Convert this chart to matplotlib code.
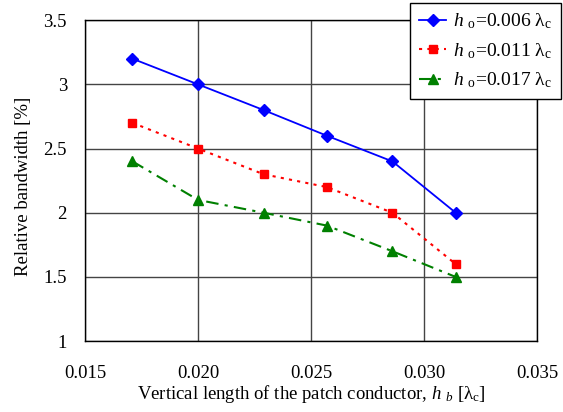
import matplotlib
matplotlib.use("Agg")
import matplotlib.pyplot as plt

plt.rcParams['font.family'] = ['Liberation Serif', 'DejaVu Serif']
plt.rcParams['mathtext.fontset'] = 'custom'
plt.rcParams['mathtext.rm'] = 'Liberation Serif'
plt.rcParams['mathtext.it'] = 'Liberation Serif:italic'
plt.rcParams['mathtext.bf'] = 'Liberation Serif:bold'

x_vals = [0.0171, 0.0200, 0.0229, 0.0257, 0.0286, 0.0314]
bw_006 = [3.2, 3.0, 2.8, 2.6, 2.4, 2.0]
bw_011 = [2.7, 2.5, 2.3, 2.2, 2.0, 1.6]
bw_017 = [2.4, 2.1, 2.0, 1.9, 1.7, 1.5]
labels = [r'$h$ $_{\rm o}$=0.006 λ$_{\rm c}$',
          r'$h$ $_{\rm o}$=0.011 λ$_{\rm c}$',
          r'$h$ $_{\rm o}$=0.017 λ$_{\rm c}$']
xticks = [0.015, 0.020, 0.025, 0.030, 0.035]
xticklabels = ['0.015', '0.020', '0.025', '0.030', '0.035']
yticks = [1, 1.5, 2, 2.5, 3, 3.5]
yticklabels = ['1', '1.5', '2', '2.5', '3', '3.5']

fig = plt.figure(figsize=(5.63, 4.12), dpi=100)
ax = fig.add_axes([0.151, 0.172, 0.803, 0.779])

ax.plot(x_vals, bw_006, color='#0000FF', linestyle='-', linewidth=1.3,
        marker='D', markersize=6, label=labels[0])
ax.plot(x_vals, bw_011, color='#FF0000', linestyle=(0, (1.5, 2.5)), linewidth=1.5,
        marker='s', markersize=6, label=labels[1])
ax.plot(x_vals, bw_017, color='#008000', linestyle=(0, (6, 3, 1.5, 3)), linewidth=1.5,
        marker='^', markersize=7, label=labels[2])

ax.set_xlim(0.015, 0.035)
ax.set_ylim(1, 3.5)
ax.set_xticks(xticks)
ax.set_xticklabels(xticklabels)
ax.set_yticks(yticks)
ax.set_yticklabels(yticklabels)
ax.tick_params(length=0, labelsize=13.5)
ax.tick_params(axis='x', pad=17)
ax.tick_params(axis='y', pad=13)
ax.grid(True, color='#444444', linewidth=1)
ax.set_axisbelow(True)
for s in ax.spines.values():
    s.set_color('black')
    s.set_linewidth(1)

ax.set_xlabel(r'Vertical length of the patch conductor, $h$ $_b$ [λ$_{\rm c}$]',
              fontsize=13.5, labelpad=1)
ax.set_ylabel('Relative bandwidth [%]', fontsize=13.5)
ax.yaxis.set_label_coords(-0.117, 0.482)

leg = ax.legend(loc='upper right', bbox_to_anchor=(0.996, 0.993),
                bbox_transform=fig.transFigure, borderaxespad=0,
                fancybox=False, framealpha=1, edgecolor='black',
                fontsize=14, handlelength=1.4, handletextpad=0.35,
                labelspacing=0.5, borderpad=0.45)
leg.get_frame().set_linewidth(1)

fig.savefig('out.png', dpi=100)
